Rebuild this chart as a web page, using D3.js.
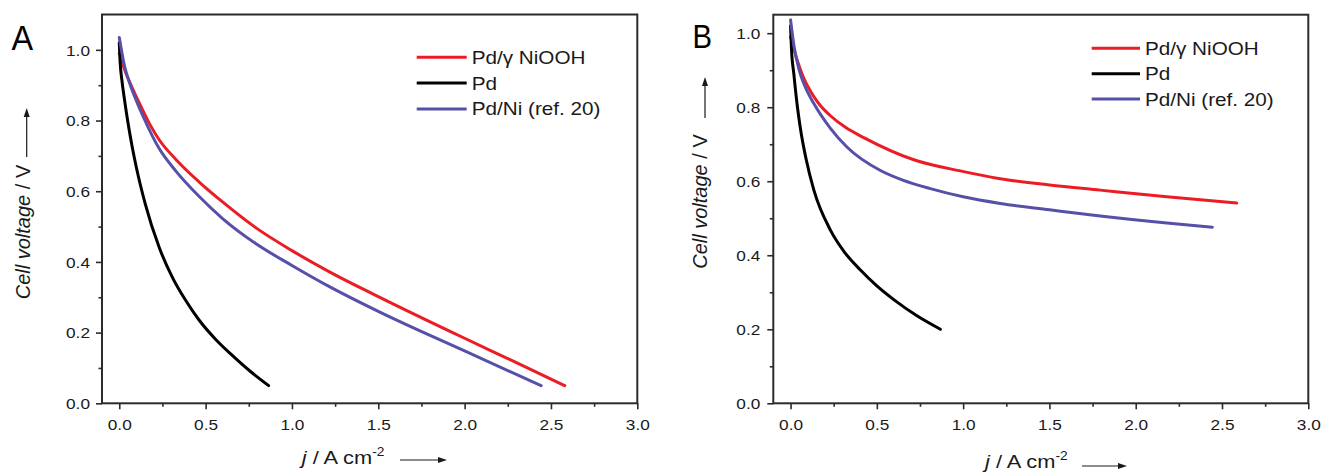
<!DOCTYPE html>
<html>
<head>
<meta charset="utf-8">
<script src="https://cdn.jsdelivr.net/npm/d3@7"></script>
<style>
  html, body { margin: 0; padding: 0; background: #fff; }
  svg { display: block; font-family: "Liberation Sans", Arial, sans-serif; }
</style>
</head>
<body>
<svg id="chart" width="1323" height="476"></svg>
<script>
// ---------------- DATA ----------------
const seriesNames = ["Pd/\u03b3 NiOOH", "Pd", "Pd/Ni (ref. 20)"];
const seriesColors = ["#ec1c24", "#000000", "#5650a8"];

const xTicks = [0, 0.5, 1.0, 1.5, 2.0, 2.5, 3.0];
const xMinorTicks = [0.25, 0.75, 1.25, 1.75, 2.25, 2.75];
const yTicks = [0, 0.2, 0.4, 0.6, 0.8, 1.0];
const yMinorTicks = [0.1, 0.3, 0.5, 0.7, 0.9];

// Panel A  [j (A cm-2), cell voltage (V)]
const aNiOOH = [[0,0.99],[0.03,0.945],[0.068,0.9],[0.1,0.866],[0.174,0.792],[0.232,0.745],[0.328,0.69],
  [0.463,0.626],[0.6,0.569],[0.79,0.497],[1.0,0.432],[1.217,0.372],[1.5,0.302],[2.0,0.184],[2.3,0.115],[2.58,0.05]];
const aPd = [[0,1.02],[0.005,0.965],[0.015,0.915],[0.03,0.86],[0.05,0.795],[0.075,0.725],[0.1,0.665],
  [0.15,0.565],[0.232,0.44],[0.309,0.355],[0.386,0.29],[0.463,0.235],[0.56,0.18],[0.656,0.135],[0.76,0.09],[0.865,0.05]];
const aPdNi = [[0,1.035],[0.03,0.955],[0.068,0.895],[0.1,0.855],[0.135,0.815],[0.232,0.72],[0.328,0.657],
  [0.463,0.585],[0.6,0.522],[0.79,0.452],[1.0,0.39],[1.217,0.33],[1.5,0.26],[2.0,0.148],[2.443,0.05]];

// Panel B
const bNiOOH = [[0,0.99],[0.03,0.94],[0.077,0.878],[0.12,0.84],[0.17,0.806],[0.231,0.777],[0.32,0.745],[0.424,0.718],
  [0.714,0.658],[1.003,0.626],[1.215,0.607],[1.5,0.59],[1.794,0.576],[2.18,0.558],[2.585,0.541]];
const bPd = [[0,1.02],[0.005,0.96],[0.019,0.89],[0.04,0.8],[0.058,0.74],[0.09,0.66],[0.135,0.576],
  [0.231,0.468],[0.31,0.41],[0.405,0.36],[0.5,0.317],[0.598,0.28],[0.73,0.237],[0.868,0.2]];
const bPdNi = [[0,1.036],[0.02,0.965],[0.05,0.9],[0.08,0.86],[0.135,0.81],[0.231,0.743],[0.328,0.692],
  [0.521,0.629],[0.65,0.603],[0.81,0.58],[1.0,0.558],[1.215,0.54],[1.5,0.523],[1.794,0.506],[2.18,0.487],[2.444,0.476]];

const xDomain = [-0.1, 3.0];
const yMaxA = 1.1, yMaxB = 1.05;

// ---------------- DRAW ----------------
const svg = d3.select("#chart");
const frameColor = "#2b2b2b";
const textColor = "#1a1a1a";

function arrow(g, x1, y1, x2, y2) {
  const ang = Math.atan2(y2 - y1, x2 - x1);
  const L = 9, W = 3;
  const bx = x2 - L * Math.cos(ang), by = y2 - L * Math.sin(ang);
  g.append("line").attr("x1", x1).attr("y1", y1).attr("x2", bx).attr("y2", by)
    .attr("stroke", textColor).attr("stroke-width", 1.2);
  const px = -Math.sin(ang) * W, py = Math.cos(ang) * W;
  g.append("path")
    .attr("d", `M${x2},${y2}L${bx + px},${by + py}L${bx - px},${by - py}Z`)
    .attr("fill", textColor);
}

function panel(cfg, series) {
  const g = svg.append("g");
  const x = d3.scaleLinear().domain(xDomain).range([cfg.left, cfg.right]);
  const y = d3.scaleLinear().domain([0, cfg.ymax]).range([cfg.bottom, cfg.top]);

  // axes
  const xa = g.append("g").attr("transform", `translate(0,${cfg.bottom})`)
    .call(d3.axisBottom(x).tickValues(xTicks).tickSize(6).tickFormat(d3.format(".1f")));
  const xm = g.append("g").attr("transform", `translate(0,${cfg.bottom})`)
    .call(d3.axisBottom(x).tickValues(xMinorTicks).tickSize(3.5).tickFormat(""));
  const ya = g.append("g").attr("transform", `translate(${cfg.left},0)`)
    .call(d3.axisLeft(y).tickValues(yTicks).tickSize(6).tickFormat(d3.format(".1f")));
  const ym = g.append("g").attr("transform", `translate(${cfg.left},0)`)
    .call(d3.axisLeft(y).tickValues(yMinorTicks).tickSize(3.5).tickFormat(""));
  [xa, xm, ya, ym].forEach(a => {
    a.attr("font-family", null).attr("font-size", null);
    a.select(".domain").remove();
    a.selectAll("line").attr("stroke", frameColor).attr("stroke-width", 1.6);
  });
  xa.selectAll("text").attr("y", 0).attr("dy", "0.71em")
    .attr("transform", "translate(0,16) scale(1.15,1)")
    .attr("font-size", 15).attr("fill", textColor);
  ya.selectAll("text").attr("x", 0).attr("dy", "0.35em")
    .attr("transform", `translate(${-cfg.ylabOff},0) scale(1.15,1)`)
    .attr("font-size", 15).attr("fill", textColor);

  // frame
  g.append("rect").attr("x", cfg.left).attr("y", cfg.top)
    .attr("width", cfg.right - cfg.left).attr("height", cfg.bottom - cfg.top)
    .attr("fill", "none").attr("stroke", frameColor).attr("stroke-width", 2);

  // curves
  const line = d3.line().x(d => x(d[0])).y(d => y(d[1])).curve(d3.curveMonotoneX);
  series.forEach((s, i) => {
    g.append("path").datum(s).attr("d", line)
      .attr("fill", "none").attr("stroke", seriesColors[i])
      .attr("stroke-width", 3).attr("stroke-linecap", "round").attr("stroke-linejoin", "round");
  });

  // legend
  seriesNames.forEach((name, i) => {
    const ly = cfg.legY + i * cfg.legStep;
    g.append("line").attr("x1", cfg.legX).attr("x2", cfg.legX + cfg.legLen)
      .attr("y1", ly).attr("y2", ly).attr("stroke", seriesColors[i]).attr("stroke-width", 3);
    g.append("text").attr("transform", `translate(${cfg.legX + cfg.legLen + 5},${ly}) scale(1.15,1)`)
      .attr("dy", "0.36em").attr("font-size", 18).attr("fill", textColor).text(name);
  });

  // panel letter
  g.append("text").attr("transform", `translate(${cfg.letterX},${cfg.letterY}) scale(0.9,1)`)
    .attr("font-size", cfg.letterSize).attr("fill", "#000").text(cfg.letter);

  // y title
  const yt = g.append("text")
    .attr("transform", `translate(${cfg.ytX},${cfg.ytY}) rotate(-90)`)
    .attr("text-anchor", "middle").attr("font-size", 20).attr("fill", textColor);
  yt.append("tspan").attr("font-style", "italic").text("Cell voltage");
  yt.append("tspan").text(" / V");
  arrow(g, cfg.yaX, cfg.yaY1, cfg.yaX, cfg.yaY2);

  // x title
  const xt = g.append("text")
    .attr("transform", `translate(${cfg.xtX},${cfg.xtY}) scale(1.15,1)`)
    .attr("font-size", 19).attr("fill", textColor);
  xt.append("tspan").attr("font-style", "italic").text("j");
  xt.append("tspan").text(" / A cm");
  xt.append("tspan").attr("font-size", 12).attr("dy", -8).text("-2");
  arrow(g, cfg.xaX1, cfg.xaY, cfg.xaX2, cfg.xaY);
}

panel({
  left: 102, right: 637.3, top: 14.5, bottom: 403.3, ymax: yMaxA, ylabOff: 12,
  legX: 416.7, legLen: 50, legY: 57.3, legStep: 25.8,
  letter: "A", letterX: 11.5, letterY: 50, letterSize: 36,
  ytX: 29.5, ytY: 232, yaX: 26.7, yaY1: 157, yaY2: 108,
  xtX: 301.7, xtY: 464, xaX1: 400, xaX2: 447, xaY: 460
}, [aNiOOH, aPd, aPdNi]);

panel({
  left: 773.3, right: 1308.3, top: 14.7, bottom: 403.3, ymax: yMaxB, ylabOff: 13,
  legX: 1091.7, legLen: 48.3, legY: 48.3, legStep: 25.4,
  letter: "B", letterX: 692.5, letterY: 48.3, letterSize: 32.5,
  ytX: 706.5, ytY: 201.5, yaX: 705, yaY1: 118, yaY2: 77,
  xtX: 985, xtY: 468, xaX1: 1082, xaX2: 1127, xaY: 466
}, [bNiOOH, bPd, bPdNi]);
</script>
</body>
</html>
